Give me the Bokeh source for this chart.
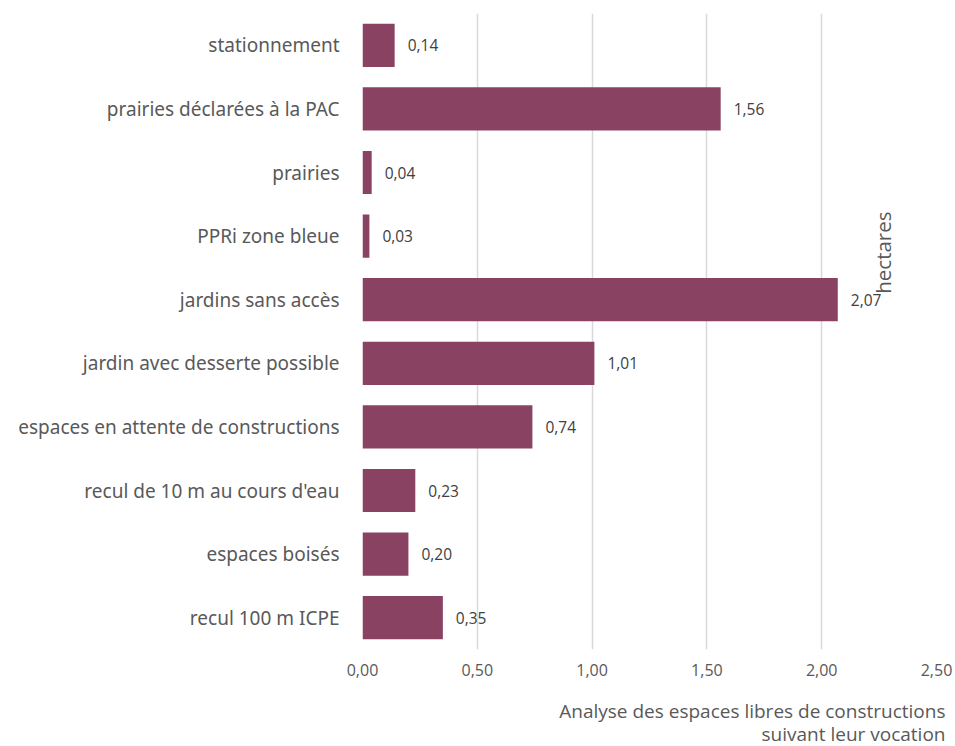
from bokeh.plotting import figure
from bokeh.models import ColumnDataSource, FactorRange, Range1d, Label, FixedTicker, CustomJSTickFormatter, Title
from bokeh.core.properties import value
from bokeh.embed import file_html
from bokeh.resources import INLINE

categories = [
    "stationnement",
    "prairies déclarées à la PAC",
    "prairies",
    "PPRi zone bleue",
    "jardins sans accès",
    "jardin avec desserte possible",
    "espaces en attente de constructions",
    "recul de 10 m au cours d'eau",
    "espaces boisés",
    "recul 100 m ICPE",
]
values = [0.14, 1.56, 0.04, 0.03, 2.07, 1.01, 0.74, 0.23, 0.20, 0.35]
x_ticks = [0, 0.5, 1.0, 1.5, 2.0, 2.5]
axis_title = "hectares"
title_lines = ["Analyse des espaces libres de constructions", "suivant leur vocation"]

labels = [f"{v:.2f}".replace(".", ",") for v in values]
src = ColumnDataSource(dict(cat=categories, val=values, lab=labels))

p = figure(width=955, height=746, output_backend="svg", toolbar_location=None,
           y_range=FactorRange(*reversed(categories), range_padding=0),
           x_range=Range1d(0, 2.5),
           min_border_left=362, min_border_right=19, min_border_top=13, min_border_bottom=97)
p.outline_line_color = None
p.background_fill_color = "white"

p.hbar(y="cat", right="val", left=0, height=0.68, source=src,
       fill_color="#8a4263", line_color=None)
p.text(x="val", y="cat", text="lab", source=src, x_offset=13,
       text_align="left", text_baseline="middle",
       text_font=value("Open Sans"), text_font_size="15.5px", text_color="#404040")

p.xaxis.ticker = FixedTicker(ticks=x_ticks)
p.xaxis.formatter = CustomJSTickFormatter(code="return tick.toFixed(2).replace('.', ',');")
p.xaxis.axis_line_color = None
p.xaxis.major_tick_line_color = None
p.xaxis.minor_tick_line_color = None
p.xaxis.major_tick_out = 0
p.xaxis.major_tick_in = 0
p.xaxis.minor_tick_out = 0
p.xaxis.major_label_standoff = 14
p.xaxis.major_label_text_font = "Open Sans"
p.xaxis.major_label_text_font_size = "16px"
p.xaxis.major_label_text_color = "#595959"

p.yaxis.axis_line_color = None
p.yaxis.major_tick_line_color = None
p.yaxis.minor_tick_line_color = None
p.yaxis.major_tick_out = 0
p.yaxis.major_tick_in = 0
p.yaxis.major_label_standoff = 23
p.yaxis.major_label_text_font = "Noto Sans"
p.yaxis.major_label_text_font_size = "19px"
p.yaxis.major_label_text_color = "#595959"

p.xgrid.grid_line_color = "#d9d9d9"
p.xgrid.grid_line_width = 1.5
p.ygrid.grid_line_color = None

p.add_layout(Label(x=2.265, y=6.24, text=axis_title,
                   angle=1.5708, text_align="center", text_baseline="middle",
                   text_font="Open Sans", text_font_size="20.5px", text_color="#595959"))

# spacer between the axis and the caption
p.add_layout(Title(text=" ", text_font_size="1px", standoff=19), "below")
for line, so in zip(title_lines, [-10, 0]):
    p.add_layout(Title(text=line, align="right", offset=-9, standoff=so,
                       text_font="Open Sans", text_font_size="19px", text_font_style="normal",
                       text_color="#595959"), "below")

open("out.html", "w").write(file_html(p, INLINE))
